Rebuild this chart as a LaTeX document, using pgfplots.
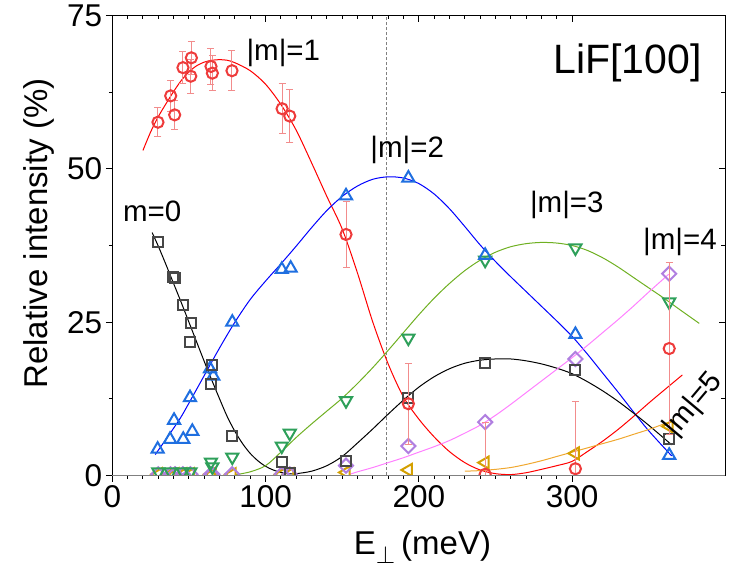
\documentclass[border=0pt]{standalone}
\usepackage{fontspec}
\setmainfont{Liberation Sans}
\usepackage{pgfplots}
\pgfplotsset{compat=1.18}
\definecolor{mkred}{HTML}{EE3B3B}
\definecolor{errred}{HTML}{F28C8C}
\definecolor{mkblue}{HTML}{1F6FE0}
\definecolor{mkgreen}{HTML}{2EA05A}
\definecolor{mkpurple}{HTML}{B07FE0}
\definecolor{mkgold}{HTML}{D4A000}
\definecolor{mkgray}{HTML}{474747}
\definecolor{cvgreen}{HTML}{6FB022}
\definecolor{cvpink}{HTML}{FF80FF}
\definecolor{cvorange}{HTML}{F0A830}
\definecolor{zeroline}{HTML}{808080}
\newcommand\fs[1]{\fontsize{#1}{#1}\selectfont}
\begin{document}
\begin{tikzpicture}
\path[use as bounding box] (-112.3pt,-96.5pt) rectangle (634.7pt,475.5pt);
\begin{axis}[at={(0pt,0pt)}, anchor=south west, scale only axis,
  width=613pt, height=460pt,
  xmin=0, xmax=400, ymin=0, ymax=75,
  xtick={0,100,200,300}, ytick={0,25,50,75},
  minor x tick num=9, minor y tick num=1,
  tick pos=left, tick align=outside,
  major tick length=6.5pt, minor tick length=3.5pt,
  every tick/.style={black, line width=1pt},
  axis line style={black, line width=1.2pt},
  ticklabel style={font=\fs{31.5}},
  /pgf/number format/assume math mode=true,
  xlabel={E$_{\perp}$\,(meV)}, ylabel={Relative intensity (\%)},
  label style={font=\fs{33}},
  xlabel style={at={(axis description cs:0.506,-0.1716)}, anchor=base},
  ylabel style={at={(axis description cs:-0.106,0.526)}, anchor=base},
  clip marker paths=true,
]
% dashed reference
\draw[zeroline, line width=0.8pt, dash pattern=on 3pt off 2pt] (axis cs:179,0) -- (axis cs:179,75);
% fit curves
\addplot[red, line width=1pt, smooth] coordinates {
(20,53.0) (25,56.0) (30,58.5) (35,60.6) (40,62.6) (45,64.4) (50,65.8) (55,66.8) (60,67.4) (65,67.7) (70,67.8) (75,67.7) (80,67.3) (90,66.0) (100,63.8) (110,60.5) (120,56.3) (130,51.0) (140,45.5) (150,40.2) (160,33.0) (170,25.0) (180,18.2) (190,12.8) (200,9.2) (210,6.3) (220,3.9) (230,2.1) (240,0.9) (250,0.3) (260,0.15) (270,0.45) (280,1.0) (290,1.6) (300,2.3) (310,3.9) (320,5.6) (330,7.5) (340,9.6) (350,11.8) (360,13.9) (372,16.4)};
\addplot[blue, line width=1pt, smooth] coordinates {
(28,3.4) (35,5.9) (44,9.2) (50,11.8) (60,16.3) (70,20.8) (80,25.0) (90,28.7) (100,31.7) (110,34.5) (120,37.4) (130,40.4) (140,43.2) (150,45.5) (160,47.2) (170,48.3) (180,48.7) (190,48.5) (200,47.6) (210,45.9) (220,43.5) (230,40.6) (240,37.6) (250,34.9) (260,32.4) (270,30.0) (280,27.6) (290,25.2) (300,22.7) (310,19.8) (320,16.7) (330,13.6) (340,10.4) (350,7.3) (365,3.2)};
\addplot[black, line width=1pt, smooth] coordinates {
(26,39.6) (30,37.4) (35,34.4) (40,31.3) (45,28.2) (50,25.0) (55,21.8) (60,18.6) (65,15.5) (70,12.5) (75,9.6) (80,7.2) (85,5.2) (90,3.6) (95,2.4) (100,1.5) (105,0.9) (110,0.5) (115,0.3) (120,0.3) (130,0.7) (140,1.6) (150,3.1) (160,5.3) (170,7.6) (180,10.0) (190,12.3) (200,14.4) (210,16.1) (220,17.4) (230,18.3) (240,18.8) (250,19.0) (260,19.0) (270,18.7) (280,18.2) (290,17.5) (300,16.6) (310,15.3) (320,13.8) (330,12.1) (340,10.2) (350,8.2) (365,5.0)};
\addplot[cvgreen, line width=1pt, smooth] coordinates {
(80,0.1) (90,0.6) (100,1.6) (110,3.8) (120,6.2) (130,8.4) (140,10.5) (150,12.6) (160,15.0) (170,17.6) (180,20.4) (190,23.3) (200,26.2) (210,28.9) (220,31.3) (230,33.4) (240,35.1) (250,36.4) (260,37.3) (270,37.8) (280,38.0) (290,37.9) (300,37.5) (310,36.7) (320,35.5) (330,34.0) (340,32.3) (350,30.6) (360,28.9) (370,27.1) (383,24.8)};
\addplot[cvpink, line width=1pt, smooth] coordinates {
(155,0.2) (160,0.6) (170,1.3) (180,2.1) (190,2.9) (200,3.8) (210,4.7) (220,5.7) (230,6.9) (240,8.2) (250,9.8) (260,11.6) (270,13.5) (280,15.4) (290,17.3) (300,19.2) (310,21.2) (320,23.3) (330,25.4) (340,27.6) (350,29.9) (363,32.8)};
\addplot[cvorange, line width=1pt, smooth] coordinates {
(230,0.7) (240,0.8) (250,1.0) (260,1.3) (270,1.8) (280,2.4) (290,3.1) (300,3.8) (310,4.5) (320,5.2) (330,5.9) (340,6.7) (350,7.5) (362,8.6)};
% |m|=5 (left triangles)
\addplot[only marks, mark=triangle, mark size=7pt, color=mkgold, mark options={rotate=90, line width=2pt}] coordinates {
(30,0.2) (38,0.2) (41,0.2) (46,0.2) (51,0.2) (64.4,0.2) (65.3,0.2) (78.2,0.2) (110.6,0.2) (115.8,0.2) (152.5,0.5) (193.2,0.9) (243.3,2.1) (302.2,3.6) (363.4,8.0)};
% |m|=4 (diamonds)
\addplot[only marks, mark=square, mark size=5pt, color=mkpurple, mark options={rotate=45, line width=2pt}] coordinates {
(30,0.2) (38,0.2) (41,0.2) (46,0.2) (51,0.2) (64.4,0.2) (65.3,0.2) (78.2,0.2) (110.6,0.2) (115.8,0.2) (152.5,1.6) (193.2,4.8) (243.3,8.7) (302.2,19.0) (363.4,32.9)};
% |m|=3 (down triangles)
\addplot[only marks, mark=triangle, mark size=7pt, color=mkgreen, mark options={rotate=180, line width=2pt}] coordinates {
(30,0.6) (38,0.6) (46,0.6) (51,0.6) (64.4,2.2) (65.3,1.4) (78.3,3.0) (110.6,4.8) (115.8,6.9) (152.5,12.2) (193.2,22.4) (243.3,35.1) (302.2,37.1) (363.4,28.3)};
% |m|=2 (triangles)
\addplot[only marks, mark=triangle, mark size=7pt, color=mkblue, mark options={line width=2pt}] coordinates {
(29.6,4.3) (40.3,9.0) (37.7,5.9) (46.3,5.9) (52.2,7.2) (50.7,12.7) (63.8,17.4) (65.9,16.2) (78.3,25.0) (110.6,33.6) (116.4,33.8) (152.5,45.6) (193.2,48.5) (243.3,35.9) (302.2,23.0) (363.4,3.3)};
% m=0 (squares)
\addplot[only marks, mark=square, mark size=5pt, color=mkgray, mark options={line width=2pt}] coordinates {
(29.6,38.1) (39.8,32.3) (40.9,32.2) (46.3,27.8) (51.4,24.8) (50.9,21.8) (65.3,18.0) (64.4,14.9) (78.3,6.4) (110.6,2.2) (115.8,0.4) (152.5,2.3) (193.2,12.7) (243.3,18.4) (302.2,17.2) (363.4,5.9)};
% |m|=1 (circles with error bars)
\addplot[only marks, mark=o, mark size=5.6pt, color=mkred, mark options={line width=2pt},
  error bars/.cd, y dir=both, y explicit,
  error bar style={color=errred, line width=1pt},
  error mark options={rotate=90, mark size=3.5pt, color=errred, line width=1pt}] coordinates {
(29.8,57.6) +- (0,2.4)
(38.1,61.9) +- (0,2.5)
(40.7,58.8) +- (0,2.4)
(46.1,66.5) +- (0,2.6)
(51.6,68.1) +- (0,2.7)
(51.2,65.1) +- (0,2.8)
(64.4,66.7) +- (0,3.0)
(65.3,65.6) +- (0,2.9)
(78.1,66.0) +- (0,3.3)
(110.8,59.8) +- (0,4.1)
(115.8,58.6) +- (0,4.3)
(152.5,39.3) +- (0,5.4)
(193.2,11.7) +- (0,6.6)
(243.3,0.2) += (0,8.5) -= (0,0.2)
(302.2,1.1) += (0,10.9) -= (0,1.1)
(363.4,20.7) +- (0,14.0)
};
% annotations
\node[anchor=base, font=\fs{29.5}] at (axis cs:111.6,67.6) {|m|=1};
\node[anchor=base, font=\fs{29.5}] at (axis cs:192.4,51.9) {|m|=2};
\node[anchor=base, font=\fs{29.5}] at (axis cs:296.6,42.8) {|m|=3};
\node[anchor=base, font=\fs{29.5}] at (axis cs:370.4,36.8) {|m|=4};
\node[anchor=base, font=\fs{29.5}] at (axis cs:26.0,41.4) {m=0};
\node[anchor=center, font=\fs{29.5}, rotate=50] at (axis cs:379.2,11.5) {|m|=5};
\node[anchor=base, font=\fs{41}] at (axis cs:336.3,65.5) {LiF[100]};
\end{axis}
\begin{axis}[at={(0pt,0pt)}, anchor=south west, scale only axis,
  width=613pt, height=460pt,
  xmin=0, xmax=400, ymin=0, ymax=75,
  xtick={0,100,200,300}, ytick={0,25,50,75},
  minor x tick num=9, minor y tick num=1,
  xtick pos=right, ytick pos=right, tick align=inside,
  xticklabels={}, yticklabels={},
  major tick length=6.5pt, minor tick length=4pt,
  every tick/.style={black, line width=1pt},
  axis line style={draw=none},
]
\end{axis}
\draw[zeroline, line width=1.8pt] (0pt,0pt) -- (613pt,0pt);
\end{tikzpicture}
\end{document}
